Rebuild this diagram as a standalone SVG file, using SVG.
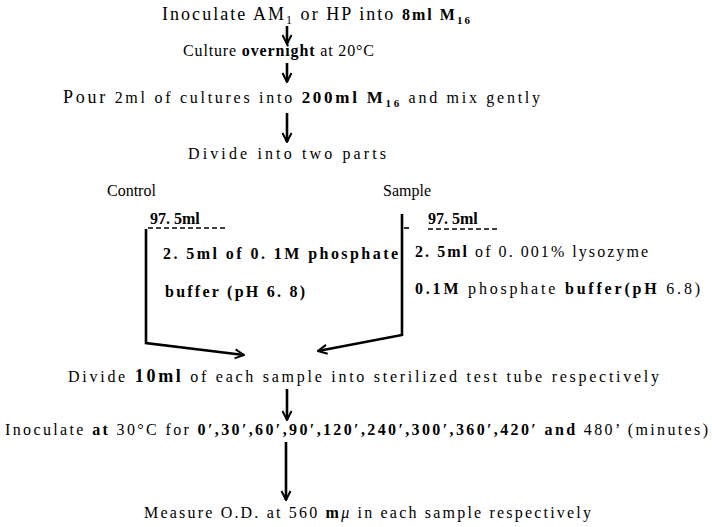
<svg xmlns="http://www.w3.org/2000/svg" width="712" height="527" viewBox="0 0 712 527">
<style>
text{fill:#000;font-size:16px}
.b{font-weight:bold}
.big{font-size:18px}
.conn{fill:none;stroke:#000;stroke-width:2.6;stroke-linejoin:miter}
.dash{stroke:#000;stroke-width:1.6;stroke-dasharray:5 3}
</style>
<defs>
<marker id="ah" viewBox="0 0 12 12" refX="11" refY="6" markerWidth="12" markerHeight="12" markerUnits="userSpaceOnUse" orient="auto">
<path d="M2,1.5 L11,6 L2,10.5" fill="none" stroke="#000" stroke-width="2"/>
</marker>
</defs>
<rect width="712" height="527" fill="#fff"/>
<g id="connectors">
<path class="conn" d="M287,26 V44" marker-end="url(#ah)"/>
<path class="conn" d="M287,63 V82" marker-end="url(#ah)"/>
<path class="conn" d="M287,113 V142" marker-end="url(#ah)"/>
<path class="conn" d="M146,229 V343 L244,355" marker-end="url(#ah)"/>
<path class="conn" d="M402,214 V335 L318,351" marker-end="url(#ah)"/>
<path class="conn" d="M287,389 V420" marker-end="url(#ah)"/>
<path class="conn" d="M286,442 V500" marker-end="url(#ah)"/>
</g>
<g font-family="'Liberation Serif', 'Times New Roman', 'DejaVu Serif', serif">
<g id="n1"><text x="162" y="20" textLength="308" lengthAdjust="spacing" class="big">Inoculate  AM<tspan font-size="12" dy="4">1</tspan><tspan dy="-4"> or HP into </tspan><tspan class="b" font-size="16">8ml M</tspan><tspan class="b" font-size="11" dy="4">16</tspan></text></g>
<g id="n2"><text x="183" y="56" textLength="191" lengthAdjust="spacing">Culture <tspan class="b">overnight</tspan> at 20°C</text></g>
<g id="n3"><text x="63" y="103" textLength="477" lengthAdjust="spacing" font-size="15.5"><tspan class="big">Pour</tspan> 2ml of cultures into <tspan class="b" font-size="17">200ml M</tspan><tspan class="b" font-size="11" dy="4">16</tspan><tspan dy="-4"> and mix gently</tspan></text></g>
<g id="n4"><text x="188" y="159" textLength="198" lengthAdjust="spacing">Divide into two parts</text></g>
<g id="control">
<text x="107" y="196">Control</text>
<text x="150" y="224" class="b" font-size="15">97. 5ml</text>
<line class="dash" x1="148" y1="228" x2="228" y2="228"/>
<text x="163" y="259" class="b" textLength="235" lengthAdjust="spacing">2. 5ml of 0. 1M  phosphate</text>
<text x="165" y="297" class="b" textLength="140" lengthAdjust="spacing">buffer (pH 6. 8)</text>
</g>
<g id="sample">
<text x="383" y="196">Sample</text>
<line class="dash" x1="404" y1="228" x2="410" y2="228"/>
<text x="428" y="224" class="b" font-size="15">97. 5ml</text>
<line class="dash" x1="428" y1="229" x2="498" y2="229"/>
<text x="415" y="257" textLength="233" lengthAdjust="spacing"><tspan class="b">2. 5ml</tspan> of 0. 001%  lysozyme</text>
<text x="415" y="294" textLength="285" lengthAdjust="spacing"><tspan class="b">0.1M</tspan> phosphate <tspan class="b">buffer(pH</tspan> 6.8)</text>
</g>
<g id="n5"><text x="68" y="382" textLength="591" lengthAdjust="spacing" font-size="16.5">Divide <tspan class="b" font-size="18">10ml</tspan> of each sample into sterilized test tube respectively</text></g>
<g id="n6"><text x="5" y="435" textLength="703" lengthAdjust="spacing" font-size="15.5">Inoculate <tspan class="b">at</tspan> 30°C for <tspan class="b">0′,30′,60′,90′,120′,240′,300′,360′,420′ and</tspan> 480’ (minutes)</text></g>
<g id="n7"><text x="144" y="518" textLength="447" lengthAdjust="spacing">Measure O.D. at 560 <tspan class="b">m</tspan><tspan font-style="italic">μ</tspan> in each sample respectively</text></g>
</g>
</svg>
